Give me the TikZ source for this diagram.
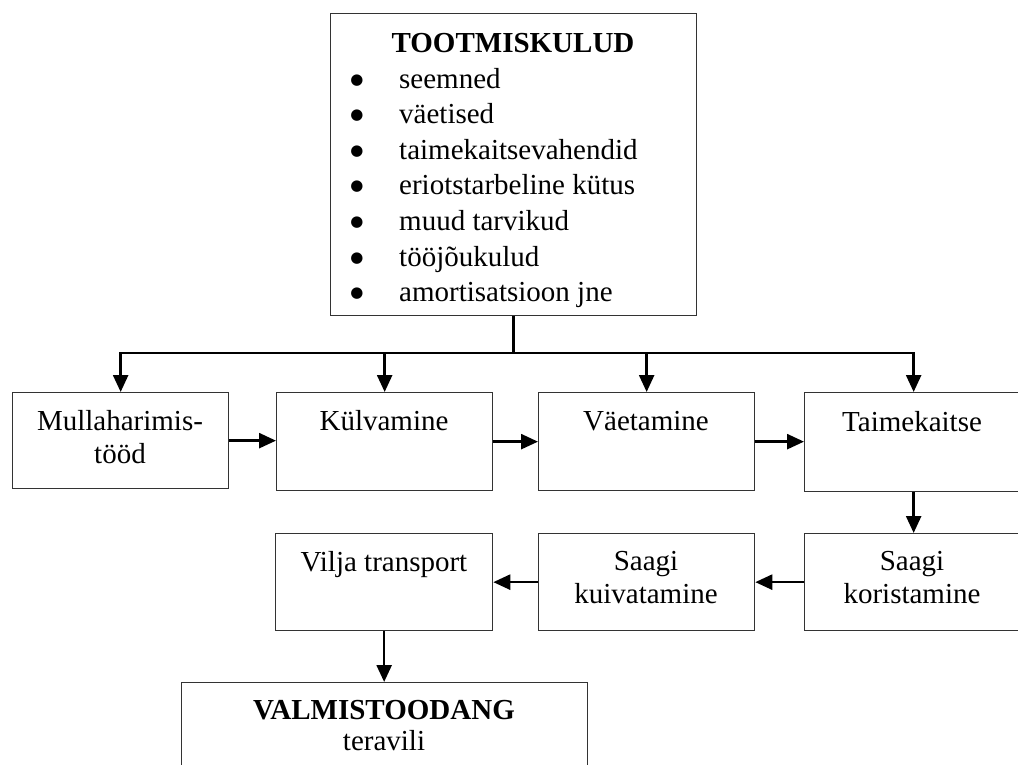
\documentclass[tikz,border=0pt]{standalone}
\usepackage{fontspec}
\setmainfont{Liberation Serif}
\newfontfamily\bulfont{DejaVu Sans}
\usetikzlibrary{arrows.meta,calc}
\tikzset{
  box/.style={draw=black!80, line width=1.3pt, rectangle, inner sep=0pt, anchor=north west},
  conn/.style={line width=2.6pt, -{Triangle[length=17pt,width=15pt]}},
  plain/.style={line width=2.6pt},
  txt/.style={font=\fontsize{29}{33}\selectfont, inner sep=0pt, anchor=base},
  btxt/.style={font=\fontsize{29}{33}\selectfont\bfseries, inner sep=0pt, anchor=base},
  itm/.style={font=\fontsize{29}{33}\selectfont, inner sep=0pt, anchor=base west},
  bul/.style={font=\bulfont\fontsize{15}{17}\selectfont, inner sep=0pt, anchor=base}
}
\begin{document}
\begin{tikzpicture}[x=1pt,y=-1pt]
\useasboundingbox (0,0) rectangle (1018,765);
\clip (0,0) rectangle (1018,765);
% boxes
\node[box, minimum width=366pt, minimum height=302pt] (top) at (330,13) {};
\node[box, minimum width=216pt, minimum height=96pt] (mul) at (12,392) {};
\node[box, minimum width=216pt, minimum height=98pt] (kul) at (276,392) {};
\node[box, minimum width=216pt, minimum height=98pt] (vae) at (538,392) {};
\node[box, minimum width=218pt, minimum height=99pt] (tai) at (804,392) {};
\node[box, minimum width=217pt, minimum height=97pt] (vil) at (275,533) {};
\node[box, minimum width=216pt, minimum height=97pt] (kui) at (538,533) {};
\node[box, minimum width=218pt, minimum height=97pt] (kor) at (804,533) {};
\node[box, minimum width=406pt, minimum height=120pt] (val) at (181,682) {};
% top box text
\node[btxt] (t0) at (513,53) {TOOTMISKULUD};
\foreach \i/\t in {1/seemned,2/väetised,3/taimekaitsevahendid,4/eriotstarbeline kütus,5/muud tarvikud,6/tööjõukulud,7/amortisatsioon jne}{
  \node[bul] (b\i) at (357,{53+35.5*\i-4}) {●};
  \node[itm] (i\i) at (399,{53+35.5*\i}) {\t};
}
% row texts
\node[txt] (m1) at (120,430) {Mullaharimis-};
\node[txt] (m2) at (120,463) {tööd};
\node[txt] (k1) at (384,430) {Külvamine};
\node[txt] (v1) at (646,430) {Väetamine};
\node[txt] (ta1) at (912,431) {Taimekaitse};
\node[txt] (vi1) at (384,571) {Vilja transport};
\node[txt] (s1) at (646,570) {Saagi};
\node[txt] (s2) at (646,603) {kuivatamine};
\node[txt] (r1) at (912,570) {Saagi};
\node[txt] (r2) at (912,603) {koristamine};
\node[btxt] (val1) at (384,719) {VALMISTOODANG};
\node[txt] (val2) at (384,750) {teravili};
% connectors
\coordinate (j) at (513,353);
\draw[plain] (top.south) -- (top.south |- j);
\draw[conn] (j) -| (mul.north);
\draw[conn] (j) -| (kul.north);
\draw[conn] (j) -| (vae.north);
\draw[conn] (j) -| (tai.north);
\draw[conn] (mul.east) -- (mul.east -| kul.west);
\draw[conn] (kul.east) -- (kul.east -| vae.west);
\draw[conn] (vae.east) -- (vae.east -| tai.west);
\draw[conn] (tai.south) -- (kor.north);
\draw[conn] (kor.west) -- (kor.west -| kui.east);
\draw[conn] (kui.west) -- (kui.west -| vil.east);
\draw[conn] (vil.south) -- (vil.south |- val.north);
\end{tikzpicture}
\end{document}
